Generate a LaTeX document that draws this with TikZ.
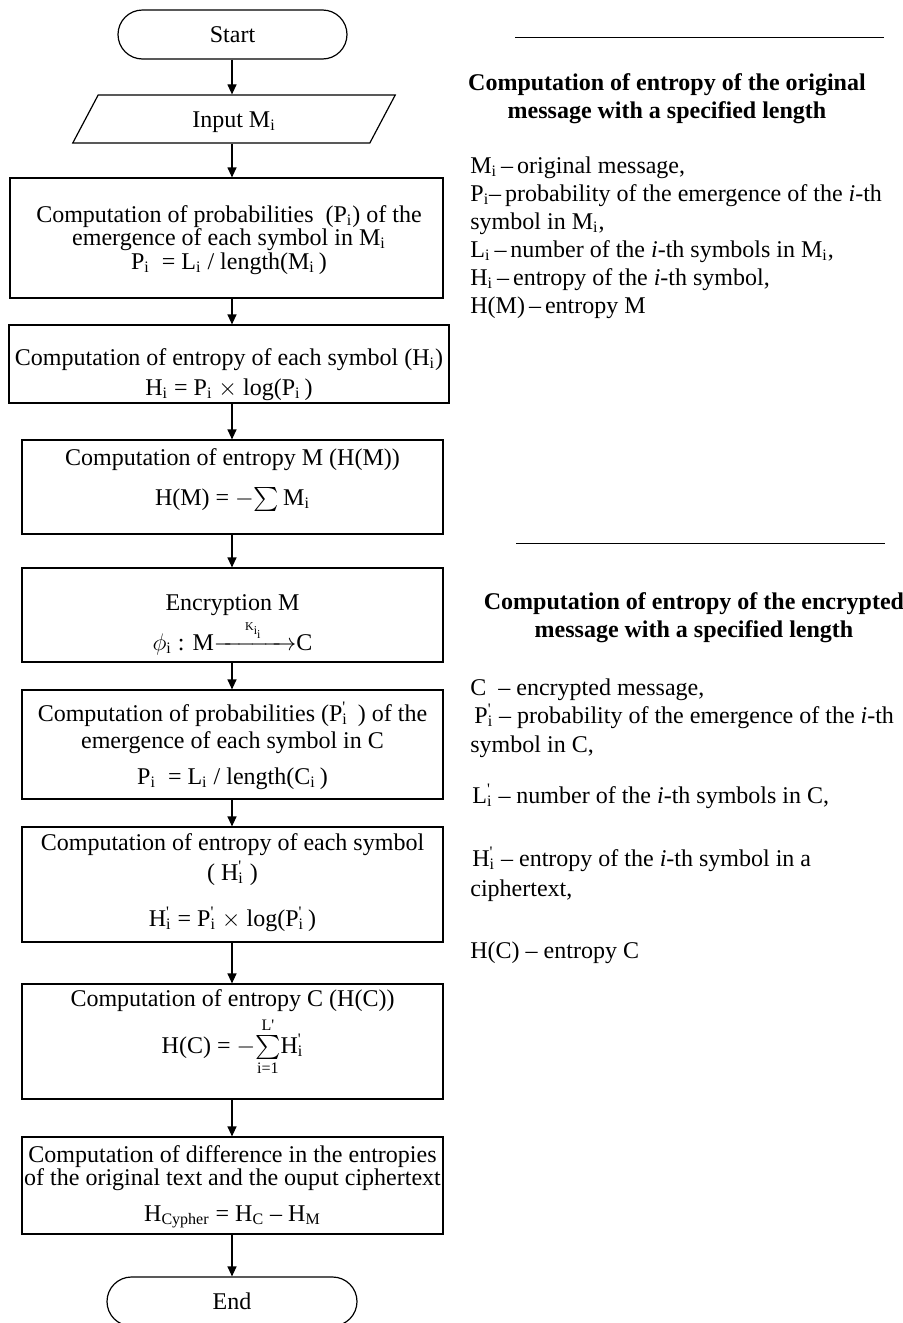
\documentclass[tikz,border=0pt]{standalone}
\usepackage{amsmath}
\usepackage{fontspec}
\setmainfont{Liberation Serif}
\usetikzlibrary{shapes.misc,shapes.geometric,arrows.meta}
% subscript i and primed symbols with a stacked subscript i
\newcommand{\sbs}[1]{\textsubscript{#1}}
\newcommand{\dsh}[1]{#1\rlap{\textsuperscript{\textquotesingle}}\textsubscript{i}}
\begin{document}
\begin{tikzpicture}[x=0.5pt,y=-0.5pt]
\tikzset{
  every node/.style={font=\fontsize{12pt}{14pt}\selectfont},
  box/.style={draw, line width=0.6pt, minimum width=210.5pt, inner sep=0pt},
  term/.style={draw, line width=0.6pt, rounded rectangle, minimum height=24.5pt,
    inner sep=0pt, text height=8pt, text depth=0pt},
  io/.style={draw, line width=0.6pt, trapezium, trapezium left angle=64,
    trapezium right angle=116, trapezium stretches=true, minimum width=162pt,
    minimum height=24pt, inner sep=0pt, text height=8pt, text depth=0pt},
  tl/.style={inner sep=0pt, text height=8pt, text depth=0pt},
  arr/.style={line width=0.6pt, -{Triangle[length=5pt,width=4.5pt]}},
  rule/.style={line width=0.5pt},
  lst/.style={anchor=base west, inner sep=0pt},
  hd/.style={anchor=base, inner sep=0pt, font=\fontsize{12pt}{14pt}\selectfont\bfseries},
}
\useasboundingbox (0,0) rectangle (903,1323);
\clip (0,0) rectangle (903,1323);

% ---------- flowchart ----------
\coordinate (ax) at (232,0);
\node[term, minimum width=114.5pt] (start) at (232.5,34.5) {Start};
\node[io] (input) at (234,119) {Input M\sbs{i}};

\node[box, minimum width=216.5pt, minimum height=60pt] (b1) at (226.5,238) {};
\node[tl] (b1a) at (229,214) {Computation of probabilities\ \ (P\sbs{i}) of the};
\node[tl] (b1b) at (229,237) {emergence of each symbol in M\sbs{i}};
\node[tl] (b1c) at (229,261) {P\sbs{i}\ \ = L\sbs{i} / length(M\sbs{i}\,)};

\node[box, minimum width=220pt, minimum height=39pt] (b2) at (229,364) {};
\node[tl] (b2a) at (229,357) {Computation of entropy of each symbol (H\sbs{i})};
\node[tl] (b2b) at (229,387) {H\sbs{i} = P\sbs{i} $\times$ log(P\sbs{i}\,)};

\node[box, minimum height=47pt] (b3) at (232.5,487) {};
\node[tl] (b3a) at (232.5,457) {Computation of entropy M (H(M))};
\node[tl] (b3b) at (232.5,497) {H(M) = $-\!\sum$\,M\sbs{i}};

\node[box, minimum height=47pt] (b4) at (232.5,615) {};
\node[tl] (b4a) at (232.5,602) {Encryption M};
\node[tl] (b4b) at (232.5,642) {$\phi$\sbs{i} : M$\xrightarrow{\hspace{13pt}\scriptscriptstyle\mathrm{K_{i_i}}\hspace{13pt}}$C};

\node[box, minimum height=54.5pt] (b5) at (232.5,744.5) {};
\node[tl] (b5a) at (232.5,713) {Computation of probabilities (\dsh{P}\ \,) of the};
\node[tl] (b5b) at (232.5,740) {emergence of each symbol in C};
\node[tl] (b5c) at (232.5,776) {P\sbs{i}\ \ = L\sbs{i} / length(C\sbs{i}\,)};

\node[box, minimum height=57.5pt] (b6) at (232.5,884.5) {};
\node[tl] (b6a) at (232.5,842) {Computation of entropy of each symbol};
\node[tl] (b6b) at (232.5,872) {( \dsh{H}\ )};
\node[tl] (b6c) at (232.5,918) {\dsh{H} = \dsh{P} $\times$ log(\dsh{P}\,)};

\node[box, minimum height=57.5pt] (b7) at (232.5,1041.5) {};
\node[tl] (b7a) at (232.5,998) {Computation of entropy C (H(C))};
\node[tl] (b7b) at (232.5,1045) {H(C) = $-\!\sum\limits_{\text{i=1}}^{\text{L\textquotesingle}}$\dsh{H}};

\node[box, minimum height=48.5pt] (b8) at (232.5,1185.5) {};
\node[tl] (b8a) at (232.5,1154) {Computation of difference in the entropies};
\node[tl] (b8b) at (232.5,1177) {of the original text and the ouput ciphertext};
\node[tl] (b8c) at (232.5,1213) {H\sbs{Cypher} = H\sbs{C} -- H\sbs{M}};

\node[term, minimum width=125pt] (end) at (232,1301.5) {End};

% ---------- connectors ----------
\draw[arr] (start.south -| ax) -- (input.north -| ax);
\draw[arr] (input.south -| ax) -- (b1.north -| ax);
\draw[arr] (b1.south -| ax) -- (b2.north -| ax);
\draw[arr] (b2.south -| ax) -- (b3.north -| ax);
\draw[arr] (b3.south -| ax) -- (b4.north -| ax);
\draw[arr] (b4.south -| ax) -- (b5.north -| ax);
\draw[arr] (b5.south -| ax) -- (b6.north -| ax);
\draw[arr] (b6.south -| ax) -- (b7.north -| ax);
\draw[arr] (b7.south -| ax) -- (b8.north -| ax);
\draw[arr] (b8.south -| ax) -- (end.north -| ax);

% ---------- notes on the original message ----------
\draw[rule] (515,37) -- (884,37);
\node[hd] (h1a) at (667,90) {Computation of entropy of the original};
\node[hd] (h1b) at (667,118) {message with a specified length};
\node[lst] (m1) at (470,173) {M\sbs{i}\,--\,original message,};
\node[lst] (m2) at (470,201) {P\sbs{i}--\,probability of the emergence of the \textit{i}-th};
\node[lst] (m3) at (470,229) {symbol in M\sbs{i},};
\node[lst] (m4) at (470,257) {L\sbs{i}\,--\,number of the \textit{i}-th symbols in M\sbs{i},};
\node[lst] (m5) at (470,285) {H\sbs{i}\,--\,entropy of the \textit{i}-th symbol,};
\node[lst] (m6) at (470,313) {H(M)\,--\,entropy M};

% ---------- notes on the encrypted message ----------
\draw[rule] (516,543) -- (885,543);
\node[hd] (h2a) at (694,609) {Computation of entropy of the encrypted};
\node[hd] (h2b) at (694,637) {message with a specified length};
\node[lst] (c1) at (470,695) {C\ \ -- encrypted message,};
\node[lst] (c2) at (474,723) {\dsh{P}\ -- probability of the emergence of the \textit{i}-th};
\node[lst] (c3) at (470,752) {symbol in C,};
\node[lst] (c4) at (472,803) {\dsh{L}\ -- number of the \textit{i}-th symbols in C,};
\node[lst] (c5) at (472,866) {\dsh{H}\ -- entropy of the \textit{i}-th symbol in a};
\node[lst] (c6) at (470,896) {ciphertext,};
\node[lst] (c7) at (470,958) {H(C) -- entropy C};
\end{tikzpicture}
\end{document}
